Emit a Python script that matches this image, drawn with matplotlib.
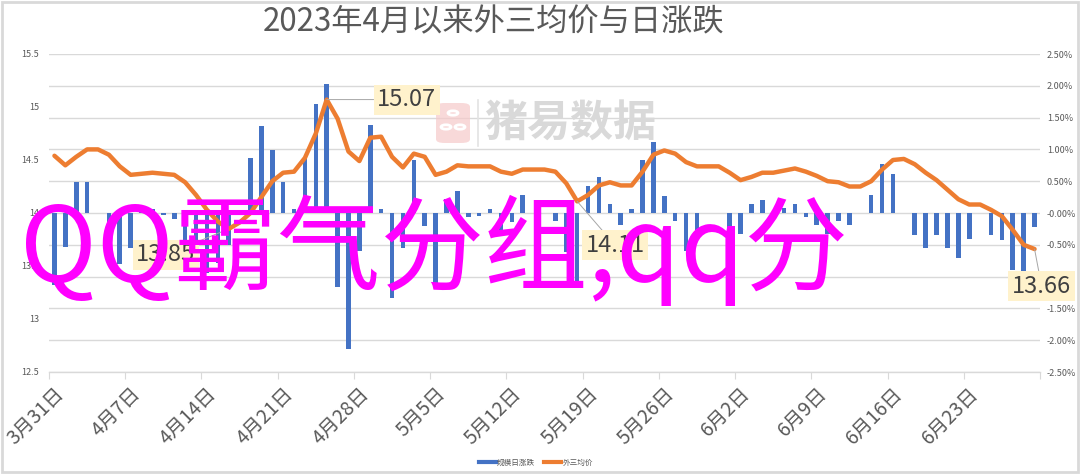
import matplotlib
matplotlib.use("Agg")
import matplotlib.pyplot as plt
import matplotlib.dates as mdates
from matplotlib.lines import Line2D
from matplotlib.patches import FancyBboxPatch, Rectangle, Circle
from matplotlib.ticker import FuncFormatter, MultipleLocator
from matplotlib.transforms import ScaledTranslation
import numpy as np
import pandas as pd

plt.rcParams['font.family'] = ['Noto Sans CJK SC', 'DejaVu Sans']

# ---- data ----
title = "2023年4月以来外三均价与日涨跌"
overlay = "QQ霸气分组,qq分"
start_date = "2023-03-31"
end_date = "2023-06-30"

# 外三均价, one value per calendar day from 3/31
price = [14.54, 14.45, 14.53, 14.60, 14.60, 14.55, 14.44, 14.36, 14.37, 14.38,
         14.37, 14.36, 14.29, 14.17, 14.03, 13.92, 13.85, 13.91, 14.00, 14.15,
         14.30, 14.38, 14.39, 14.52, 14.75, 15.07, 14.89, 14.58, 14.49, 14.71,
         14.72, 14.53, 14.43, 14.56, 14.53, 14.36, 14.39, 14.45, 14.44, 14.44,
         14.44, 14.39, 14.37, 14.41, 14.41, 14.41, 14.39, 14.28, 14.11, 14.17,
         14.26, 14.29, 14.26, 14.26, 14.39, 14.55, 14.59, 14.56, 14.48, 14.44,
         14.44, 14.44, 14.38, 14.31, 14.34, 14.38, 14.38, 14.40, 14.42, 14.39,
         14.35, 14.30, 14.29, 14.25, 14.25, 14.30, 14.41, 14.50, 14.51, 14.46,
         14.38, 14.31, 14.22, 14.13, 14.08, 14.08, 14.03, 13.97, 13.84, 13.70,
         13.66]

# 规模日涨跌, percent
change = [-1.13, -0.54, 0.48, 0.48, 0.00, -0.32, -0.80, -0.55, 0.06, 0.06,
          -0.03, -0.10, -0.49, -0.84, -0.95, -0.78, -0.50, 0.00, 0.87, 1.37,
          0.99, 0.49, 0.07, 0.87, 1.72, 2.03, -1.17, -2.14, -0.60, 1.38,
          0.07, -1.34, -0.55, 0.83, -0.20, -1.16, 0.22, 0.35, -0.07, -0.04,
          0.06, -0.35, -0.14, 0.28, 0.00, 0.00, -0.13, -0.61, -1.10, 0.43,
          0.57, 0.14, -0.19, 0.07, 0.84, 1.12, 0.27, -0.12, -0.60, -0.27,
          0.00, 0.00, -0.55, -0.33, 0.14, 0.21, 0.00, 0.08, 0.14, -0.06,
          -0.19, -0.33, -0.12, -0.19, 0.00, 0.28, 0.77, 0.62, 0.00, -0.34,
          -0.55, -0.34, -0.55, -0.70, -0.41, 0.00, -0.35, -0.42, -0.90, -0.97,
          -0.22]

# points that carry a data label
label_idx = [25, 16, 48, 90]
label_offsets = [(80, 0), (-63, -26), (38, -44), (7, -37)]

# ---- figure ----
days = pd.date_range(start_date, periods=len(price), freq="D")
x = mdates.date2num(days) + 0.5
tick_days = pd.date_range(start_date, end_date, freq="7D")
tick_x = mdates.date2num(tick_days)
tick_labels = [f"{d.month}月{d.day}日" for d in tick_days[:-1]] + [""]

fig = plt.figure(figsize=(10.8, 4.74), dpi=100)
ax = fig.add_axes([49 / 1080, 102 / 474, 991 / 1080, 318 / 474])
ax2 = ax.twinx()

ax2.bar(x, np.array(change) / 100, width=0.42, color='#4472C4', zorder=2)
ax.plot(x, price, color='#ED7D31', lw=3.2, solid_joinstyle='round',
        solid_capstyle='round', zorder=3)
ax.set_zorder(ax2.get_zorder() + 1)
ax.patch.set_visible(False)

ax.set_xlim(tick_x[0], tick_x[-1])
ax.set_ylim(12.5, 15.5)
ax2.set_ylim(-0.025, 0.025)
ax.yaxis.set_major_locator(MultipleLocator(0.5))
ax2.yaxis.set_major_locator(MultipleLocator(0.005))
ax.yaxis.set_major_formatter(FuncFormatter(lambda v, p: f"{v:g}"))
ax2.yaxis.set_major_formatter(FuncFormatter(lambda v, p: f"{v * 100:.2f}%"))

ax2.yaxis.grid(True, color='#D9D9D9', lw=1)
ax2.set_axisbelow(True)

for a in (ax, ax2):
    for s in a.spines.values():
        s.set_visible(False)
ax.spines['bottom'].set_visible(True)
ax.spines['bottom'].set_color('#D9D9D9')
ax.spines['bottom'].set_linewidth(1)

ax.tick_params(axis='y', length=0, labelsize=6.5, labelcolor='#595959', pad=7)
ax2.tick_params(axis='y', length=0, labelsize=6.5, labelcolor='#595959', pad=5)
ax.set_xticks(tick_x)
ax.set_xticklabels(tick_labels, rotation=45, ha='right', va='top',
                   rotation_mode='anchor', fontsize=14, color='#595959')
ax.tick_params(axis='x', length=5, color='#D9D9D9', pad=3)
# nudge the slanted labels a little to the right, like Excel does
shift = ScaledTranslation(5 / 100, 0, fig.dpi_scale_trans)
for lab in ax.get_xticklabels():
    lab.set_transform(lab.get_transform() + shift)

for i, (dx, dy) in zip(label_idx, label_offsets):
    ax.annotate(f"{price[i]:.2f}", xy=(x[i], price[i]), xytext=(dx, dy),
                textcoords='offset pixels', ha='center', va='center',
                fontsize=17, color='#404040', zorder=6,
                bbox=dict(boxstyle='square,pad=0.15', fc='#FFF2CC', ec='none'),
                arrowprops=dict(arrowstyle='-', color='#A6A6A6', lw=0.7,
                                shrinkA=0, shrinkB=0))

# title
fig.text(494 / 1080, 1 - 22 / 474, title, ha='center', va='center',
         fontsize=22.5, color='#595959')

# watermark
fig.add_artist(FancyBboxPatch((436 / 1080, 1 - 143 / 474), 34 / 1080, 40 / 474,
                              boxstyle='round,pad=0,rounding_size=0.008',
                              transform=fig.transFigure, fc='#F6CACA',
                              ec='none', alpha=0.7, zorder=1))
for cx, cy, r in [(453, 113, 5), (446, 127, 5), (460, 127, 5)]:
    fig.add_artist(Circle((cx / 1080, 1 - cy / 474), r / 1080,
                          transform=fig.transFigure, fc='none', ec='white',
                          lw=2, zorder=1))
fig.add_artist(Line2D([478 / 1080, 478 / 1080], [1 - 100 / 474, 1 - 146 / 474],
                      transform=fig.transFigure, color='#E3E3E3', lw=1.2))
fig.text(484 / 1080, 1 - 123 / 474, "猪易数据", ha='left', va='center',
         fontsize=31, fontweight='bold', color='#D9D9D9', zorder=1)

# overlay text
fig.text(20 / 1080, 1 - 250 / 474, overlay, ha='left', va='center',
         fontsize=74.5, color='#FF00FF', zorder=10)

# legend
handles = [Line2D([], [], color='#4472C4', lw=3),
           Line2D([], [], color='#ED7D31', lw=3)]
fig.legend(handles, ['规模日涨跌', '外三均价'], loc='center',
           bbox_to_anchor=(536 / 1080, 1 - 463 / 474), ncol=2, frameon=False,
           fontsize=5.5, handlelength=2.2, columnspacing=1.2, handletextpad=0.2,
           labelcolor='#595959')

# chart border
fig.add_artist(Rectangle((0.002, 0.004), 0.996, 0.992, transform=fig.transFigure,
                         fill=False, ec='#D9D9D9', lw=2))

fig.savefig("out.png", dpi=100)
